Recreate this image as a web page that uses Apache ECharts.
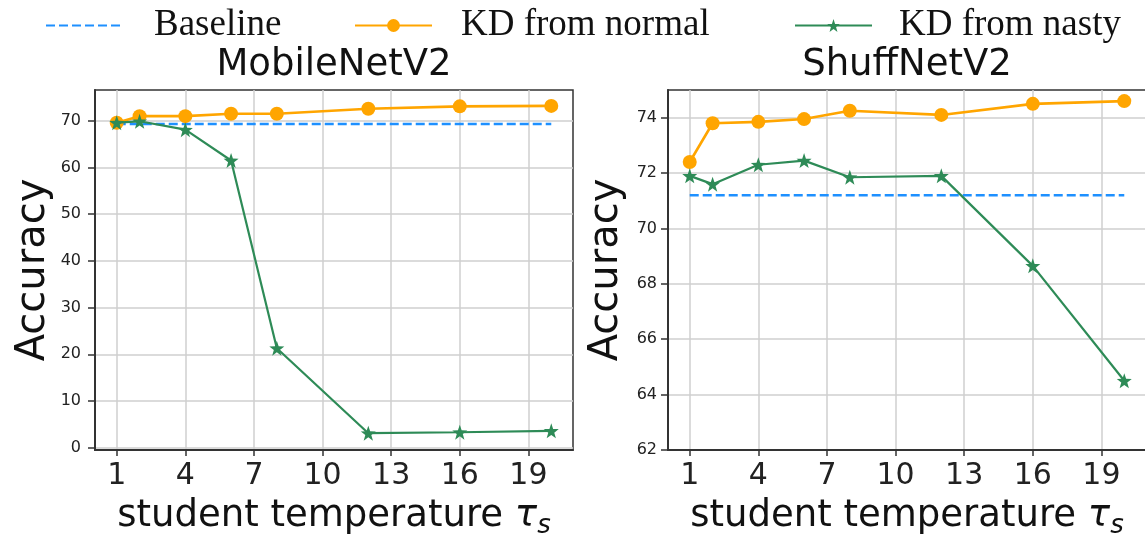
<!DOCTYPE html>
<html>
<head>
<meta charset="utf-8">
<script src="https://cdn.jsdelivr.net/npm/echarts@6/dist/echarts.min.js"></script>
<style>
html,body{margin:0;padding:0;background:#fff;}
#c{width:1145px;height:537px;}
</style>
</head>
<body>
<div id="c"></div>
<script>
// ---- data ----
const temps = [1, 2, 4, 6, 8, 12, 16, 20];
const xTicks = [1, 4, 7, 10, 13, 16, 19];
const mobileTicks = [0, 10, 20, 30, 40, 50, 60, 70];
const shuffTicks = [62, 64, 66, 68, 70, 72, 74];
const mobileNormal = [69.6, 71.0, 71.0, 71.5, 71.5, 72.6, 73.1, 73.2];
const mobileNasty = [69.6, 69.9, 68.1, 61.5, 21.3, 3.1, 3.3, 3.6];
const mobileBaseline = 69.3;
const shuffNormal = [72.4, 73.8, 73.85, 73.95, 74.25, 74.1, 74.5, 74.6];
const shuffNasty = [71.9, 71.6, 72.3, 72.45, 71.85, 71.9, 68.65, 64.5];
const shuffBaseline = 71.2;
const titles = ['MobileNetV2', 'ShuffNetV2'];
const legendNames = ['Baseline', 'KD from normal', 'KD from nasty'];

// ---- styling ----
const ORANGE = '#FFA500', GREEN = '#2E8B57', BLUE = '#1E90FF';
const STAR = 'path://M100,0 L123.5,67.6 L195.1,69.1 L138,112.4 L158.8,180.9 L100,140 L41.2,180.9 L62,112.4 L4.9,69.1 L76.5,67.6 Z';
const SANS = 'DejaVu Sans';
const pairs = (ys) => temps.map((t, i) => [t, ys[i]]);
const flat = (v) => [[temps[0], v], [temps[temps.length - 1], v]];

function xAxis(gi) {
  return {
    type: 'value', gridIndex: gi, min: 0.05, max: 20.95,
    name: '{a|student temperature }{t|τ}{s|s}',
    nameLocation: 'middle', nameGap: 43,
    nameTextStyle: {
      fontFamily: SANS, fontSize: 37, color: '#111',
      rich: {
        a: {fontFamily: SANS, fontSize: 37, color: '#111'},
        t: {fontFamily: SANS, fontSize: 37, fontStyle: 'italic', color: '#111'},
        s: {fontFamily: SANS, fontSize: 26, fontStyle: 'italic', color: '#111', padding: [20, 0, 0, 0]}
      }
    },
    axisLine: {show: true, onZero: false, lineStyle: {color: '#333', width: 2}},
    axisTick: {show: true, customValues: xTicks, length: 6, lineStyle: {color: '#333', width: 1.5}},
    axisLabel: {customValues: xTicks, fontFamily: SANS, fontSize: 30, color: '#222', margin: 11},
    splitLine: {show: true, lineStyle: {color: '#cfcfcf', width: 1.5}}
  };
}
function yAxis(gi, min, max, ticks, margin) {
  return {
    type: 'value', gridIndex: gi, min: min, max: max,
    name: 'Accuracy', nameLocation: 'middle', nameGap: 41,
    nameTextStyle: {fontFamily: SANS, fontSize: 40, color: '#111'},
    axisLine: {show: true, onZero: false, lineStyle: {color: '#333', width: 2}},
    axisTick: {show: true, customValues: ticks, length: 7, lineStyle: {color: '#333', width: 1.5}},
    axisLabel: {customValues: ticks, fontFamily: SANS, fontSize: 16, color: '#222', margin: margin},
    splitLine: {show: true, lineStyle: {color: '#cfcfcf', width: 1.5}}
  };
}
function seriesFor(gi, base, normal, nasty) {
  return [
    {name: legendNames[0], type: 'line', xAxisIndex: gi, yAxisIndex: gi, data: flat(base),
     symbol: 'none', lineStyle: {color: BLUE, width: 2.5, type: [9, 4]}, itemStyle: {color: BLUE}, z: 2},
    {name: legendNames[1], type: 'line', xAxisIndex: gi, yAxisIndex: gi, data: pairs(normal),
     symbol: 'circle', symbolSize: 14, lineStyle: {color: ORANGE, width: 2.6}, itemStyle: {color: ORANGE}, z: 3},
    {name: legendNames[2], type: 'line', xAxisIndex: gi, yAxisIndex: gi, data: pairs(nasty),
     symbol: STAR, symbolSize: 15, lineStyle: {color: GREEN, width: 2.2}, itemStyle: {color: GREEN}, z: 4}
  ];
}
function legend(name, left, pad, hideSymbol) {
  const l = {
    data: [name], left: left, top: 2, padding: 0, orient: 'horizontal',
    itemWidth: 77, itemHeight: 16, selectedMode: false,
    textStyle: {fontFamily: 'Liberation Serif', fontSize: 37, color: '#111', lineHeight: 40, padding: [7, 0, 0, pad]}
  };
  if (hideSymbol) l.itemStyle = {color: 'rgba(0,0,0,0)', borderColor: 'rgba(0,0,0,0)', borderWidth: 0};
  return l;
}

const chart = echarts.init(document.getElementById('c'), null, {renderer: 'canvas'});
chart.setOption({
  animation: false,
  backgroundColor: '#fff',
  title: [
    {text: titles[0], left: 334, top: 47, textAlign: 'center', padding: 0,
     textStyle: {fontFamily: SANS, fontSize: 37, fontWeight: 'normal', color: '#111'}},
    {text: titles[1], left: 907, top: 47, textAlign: 'center', padding: 0,
     textStyle: {fontFamily: SANS, fontSize: 37, fontWeight: 'normal', color: '#111'}}
  ],
  legend: [legend(legendNames[0], 45, 26, true), legend(legendNames[1], 354, 24, false), legend(legendNames[2], 794, 22, false)],
  grid: [
    {left: 95, top: 90, width: 478, height: 360, show: true, borderColor: '#333', borderWidth: 1.5, backgroundColor: 'transparent', outerBoundsMode: 'none'},
    {left: 668, top: 90, width: 478, height: 360, show: true, borderColor: '#333', borderWidth: 1.5, backgroundColor: 'transparent', outerBoundsMode: 'none'}
  ],
  xAxis: [xAxis(0), xAxis(1)],
  yAxis: [yAxis(0, -0.5, 76.6, mobileTicks, 14), yAxis(1, 62, 75, shuffTicks, 11)],
  series: [].concat(seriesFor(0, mobileBaseline, mobileNormal, mobileNasty), seriesFor(1, shuffBaseline, shuffNormal, shuffNasty))
});
</script>
</body>
</html>
